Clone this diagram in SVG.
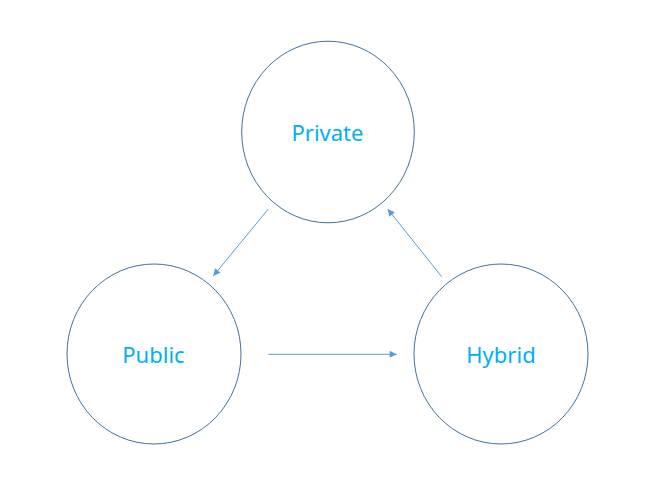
<svg xmlns="http://www.w3.org/2000/svg" width="648" height="500" viewBox="0 0 648 500">
<style>
.node ellipse{fill:#ffffff;stroke:#41719c;stroke-width:1}
.node text{font-family:"Noto Sans","Open Sans","DejaVu Sans",sans-serif;font-size:22px;fill:#00b0f0;text-anchor:middle}
.conn line{stroke:#5b9bd5;stroke-width:1;fill:none}
</style>
<defs>
<marker id="arr" viewBox="0 0 10 10" refX="10" refY="5" markerWidth="8" markerHeight="7" markerUnits="userSpaceOnUse" orient="auto">
<path d="M0,0 L10,5 L0,10 z" fill="#5b9bd5"/>
</marker>
</defs>
<rect width="648" height="500" fill="#ffffff"/>
<g id="private" class="node">
<ellipse cx="328" cy="132" rx="86.3" ry="90.8"/>
<text x="327.5" y="141">Private</text>
</g>
<g id="public" class="node">
<ellipse cx="154" cy="354" rx="87" ry="90"/>
<text x="153.5" y="362.5">Public</text>
</g>
<g id="hybrid" class="node">
<ellipse cx="501" cy="354" rx="87" ry="90"/>
<text x="501" y="362.5">Hybrid</text>
</g>
<g id="connectors" class="conn">
<line x1="268.3" y1="209" x2="213.3" y2="276" marker-end="url(#arr)"/>
<line x1="268.3" y1="354.3" x2="396.7" y2="354.3" marker-end="url(#arr)"/>
<line x1="441.7" y1="276.7" x2="387.7" y2="209" marker-end="url(#arr)"/>
</g>
</svg>
